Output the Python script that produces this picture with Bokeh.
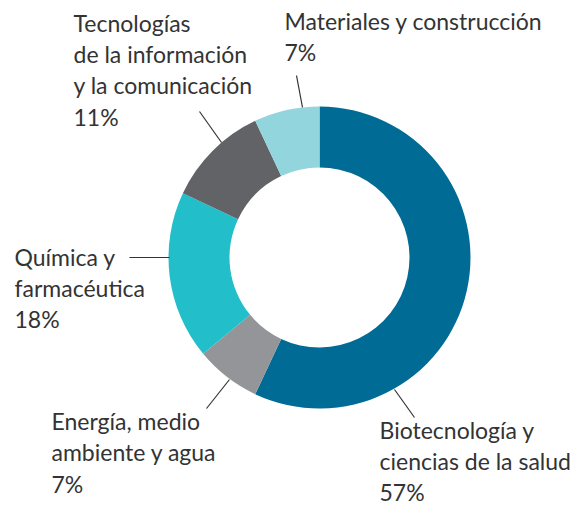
import math
from bokeh.plotting import figure
from bokeh.models import Range1d, ColumnDataSource
from bokeh.core.properties import value
from bokeh.embed import file_html
from bokeh.resources import INLINE

# ---- data ----
categories = ["Biotecnología y ciencias de la salud", "Energía, medio ambiente y agua",
              "Química y farmacéutica", "Tecnologías de la información y la comunicación",
              "Materiales y construcción"]
shares = [57, 7, 18, 11, 7]
colors = ["#006b94", "#939598", "#22bfcb", "#626366", "#93d5dd"]
label_lines = [
    ["Biotecnología y", "ciencias de la salud", "57%"],
    ["Energía, medio", "ambiente y agua", "7%"],
    ["Química y", "farmacéutica", "18%"],
    ["Tecnologías", "de la información", "y la comunicación", "11%"],
    ["Materiales y construcción", "7%"],
]

# ---- layout (page pixel coords, y downward) ----
OFF = 1
W, H = 577, 504
PAGE_H = 506
CX, CY = 320, 258
R_OUT, R_IN = 151, 90
LINE_H = 31.3
FONT = "Lato"
FONT_SIZE = "23px"
TEXT_COLOR = "#333333"
TEXT_DY = -8.5
label_pos = [(380, 438.5), (52, 430), (15, 265.5), (74, 31.7), (285, 30)]
leaders = [((395, 390), (415, 418)), ((230, 380), (207, 409)), ((170, 258), (130, 258)),
           ((222, 143), (200, 112)), ((303, 108), (297, 76))]

def fy(py):
    return PAGE_H - py

p = figure(width=W, height=H, output_backend="svg", toolbar_location=None,
           x_range=Range1d(OFF, OFF + W), y_range=Range1d(PAGE_H - OFF - H, PAGE_H - OFF),
           min_border=0, outline_line_color=None)
p.axis.visible = False
p.grid.visible = False
p.background_fill_color = "white"
p.border_fill_color = "white"

total = sum(shares)
starts, ends = [], []
cum = 0
for s in shares:
    starts.append(math.pi / 2 - 2 * math.pi * cum / total)
    cum += s
    ends.append(math.pi / 2 - 2 * math.pi * cum / total)

src = ColumnDataSource(dict(start=starts, end=ends, color=colors, cat=categories))
p.annular_wedge(x=CX, y=fy(CY), inner_radius=R_IN, outer_radius=R_OUT,
                start_angle="start", end_angle="end", direction="clock",
                fill_color="color", line_color=None, source=src)

for (a, b) in leaders:
    p.line(x=[a[0], b[0]], y=[fy(a[1]), fy(b[1])], line_color="#333333", line_width=1.2)

tx, ty, tt = [], [], []
for (x0, y0), lines in zip(label_pos, label_lines):
    for i, t in enumerate(lines):
        tx.append(x0)
        ty.append(fy(y0 + TEXT_DY + i * LINE_H))
        tt.append(t)
p.text(x=tx, y=ty, text=tt, text_font=value(FONT), text_font_size=FONT_SIZE,
       text_color=TEXT_COLOR, text_align="left", text_baseline="alphabetic")

open("out.html", "w").write(file_html(p, INLINE))
